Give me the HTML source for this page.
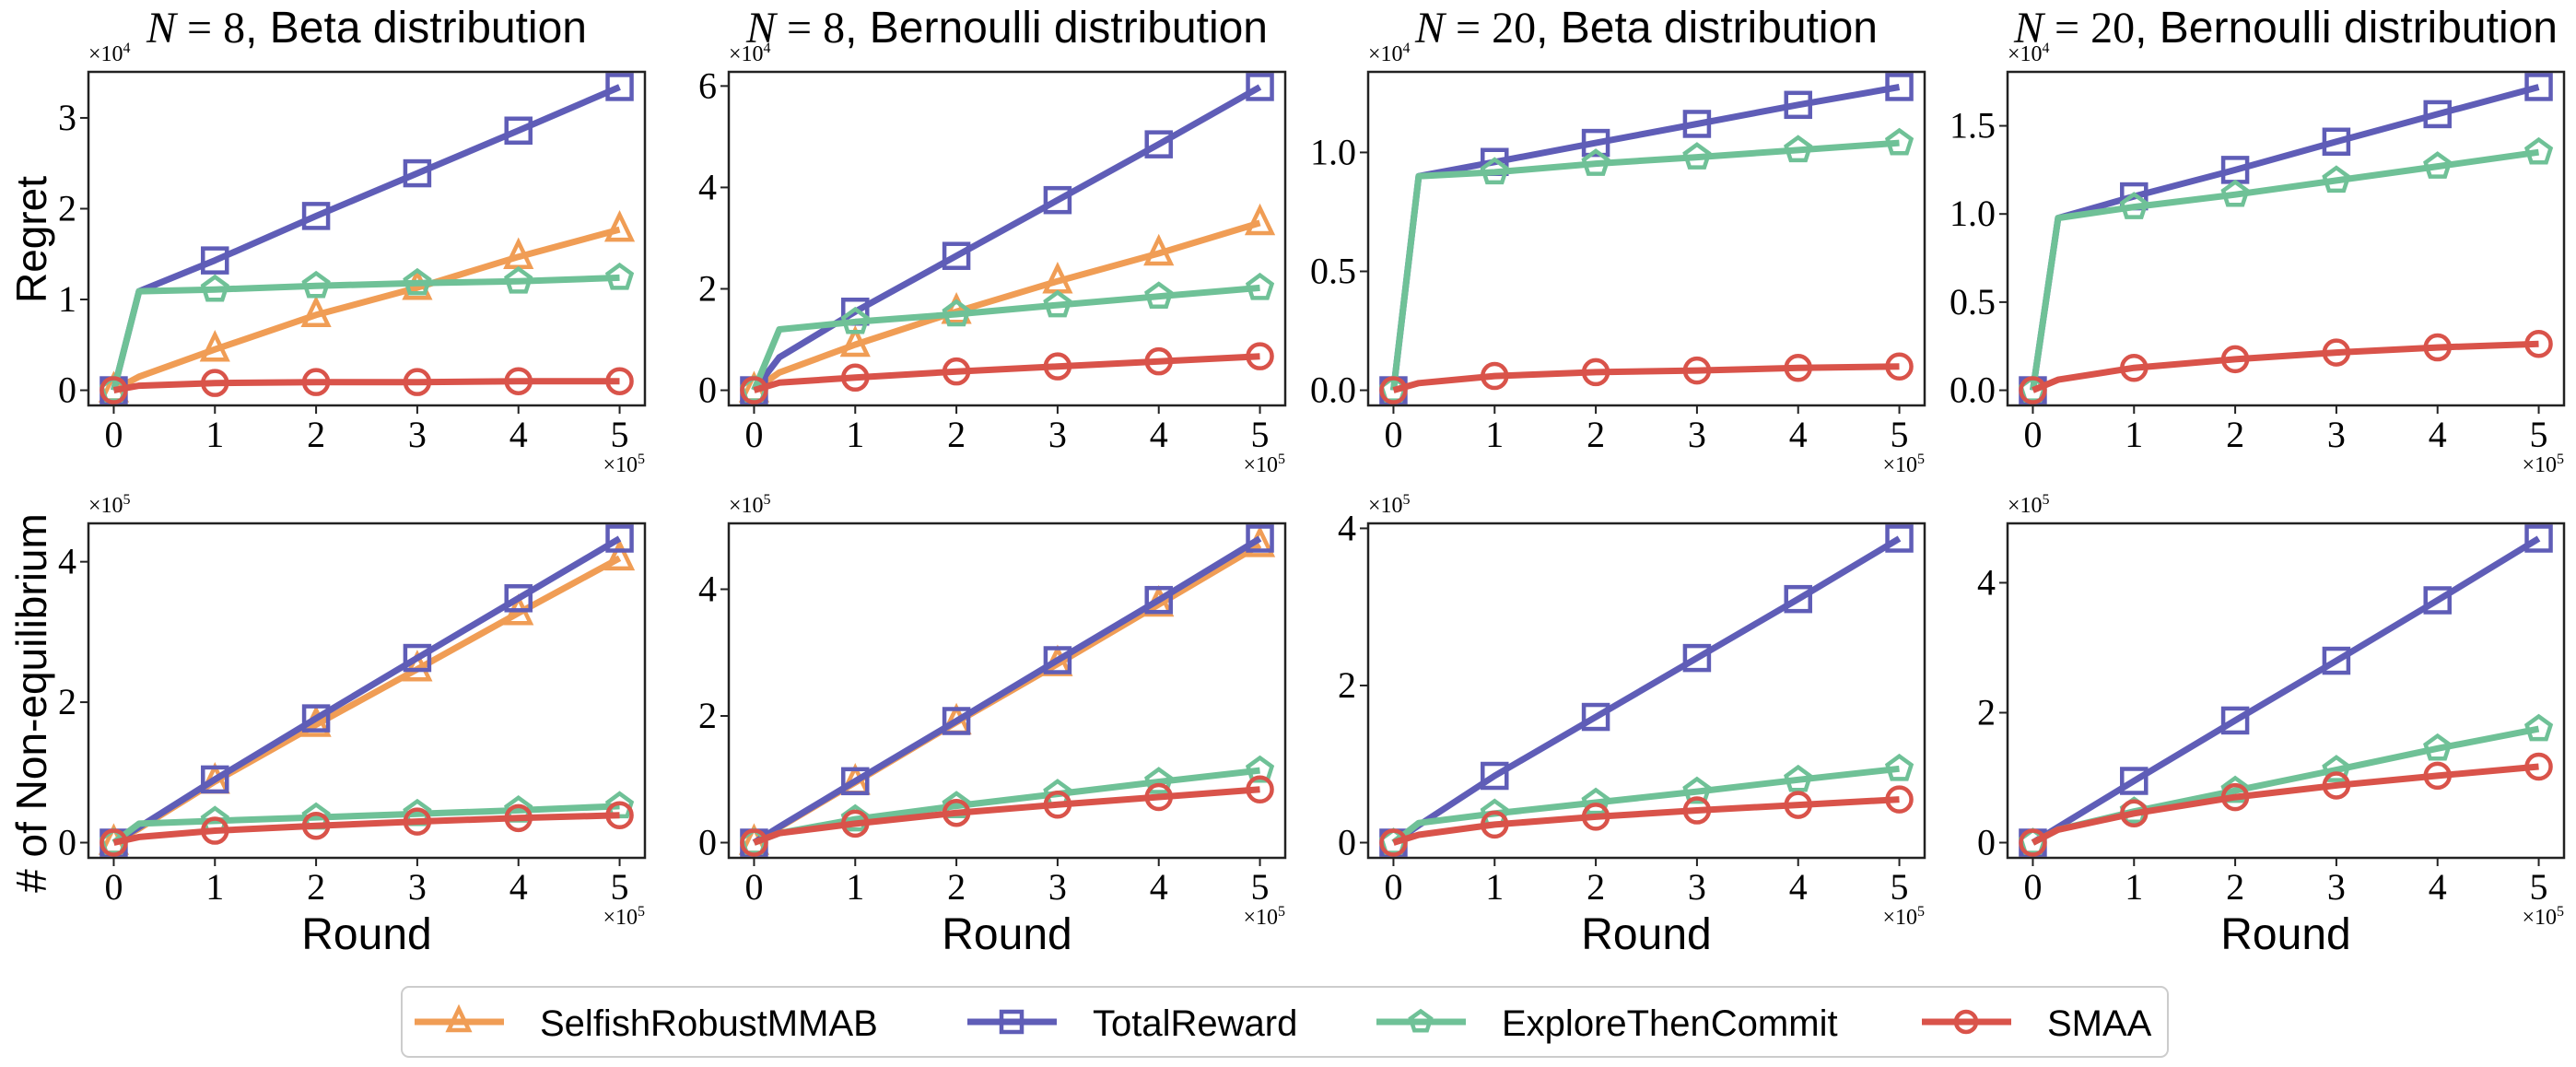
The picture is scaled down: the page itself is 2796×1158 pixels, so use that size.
<!DOCTYPE html>
<html><head><meta charset="utf-8"><style>
html,body{margin:0;padding:0;background:#fff;}
svg{display:block;}
.tick{font-family:"Liberation Serif","DejaVu Serif",serif;font-size:40px;fill:#000;}
.sans{font-family:"Liberation Sans","DejaVu Sans",sans-serif;fill:#000;}
.off{font-family:"Liberation Serif",serif;font-size:24px;fill:#000;}
</style></head><body>
<svg id="fig" width="2796" height="1158" viewBox="0 0 2796 1158" xmlns="http://www.w3.org/2000/svg">
<text class="sans" x="50" y="260" font-size="46" text-anchor="middle" transform="rotate(-90 50 260)">Regret</text>
<text class="sans" x="50" y="763" font-size="46" text-anchor="middle" transform="rotate(-90 50 763)"># of Non-equilibrium</text>
<g id="panels"></g>
<g>
<rect x="436" y="1071" width="1917" height="76" rx="8" fill="#fff" stroke="#cccccc" stroke-width="2"/>
<g id="legend"></g>
</g>
</svg>
<script>
const xTicks = [0,1,2,3,4,5];
const lineX = [0,0.25,1,2,3,4,5];
const markerX = [0,1,2,3,4,5];
const seriesNames = ["SelfishRobustMMAB","TotalReward","ExploreThenCommit","SMAA"];
const seriesColors = ["#f09d55","#5f5db7","#6fc197","#d9534a"];
const titles = ["N = 8, Beta distribution","N = 8, Bernoulli distribution","N = 20, Beta distribution","N = 20, Bernoulli distribution"];
const regretSelfish = [[0,0.15,0.45,0.83,1.13,1.47,1.77],[0,0.35,0.9,1.55,2.15,2.7,3.3],null,null];
const regretTotal = [[0,1.09,1.43,1.92,2.39,2.86,3.34],[0,0.65,1.55,2.65,3.75,4.85,5.98],[0,0.9,0.96,1.04,1.12,1.2,1.275],[0,0.977,1.1,1.25,1.41,1.566,1.72]];
const regretETC = [[0,1.09,1.11,1.15,1.18,1.2,1.24],[0,1.2,1.35,1.5,1.68,1.85,2.02],[0,0.9,0.917,0.953,0.98,1.01,1.04],[0,0.977,1.04,1.11,1.19,1.27,1.35]];
const regretSMAA = [[0,0.05,0.08,0.09,0.09,0.1,0.1],[0,0.15,0.25,0.37,0.47,0.57,0.67],[0,0.03,0.06,0.076,0.083,0.094,0.1],[0,0.06,0.127,0.176,0.214,0.243,0.263]];
const regretTicks = [[0,1,2,3],[0,2,4,6],[0.0,0.5,1.0],[0.0,0.5,1.0,1.5]];
const regretTickLabels = [["0","1","2","3"],["0","2","4","6"],["0.0","0.5","1.0"],["0.0","0.5","1.0","1.5"]];
const neSelfish = [[0,0.2,0.87,1.68,2.47,3.27,4.05],[0,0.24,0.95,1.9,2.82,3.76,4.7],null,null];
const neTotal = [[0,0.22,0.9,1.77,2.63,3.48,4.33],[0,0.25,0.97,1.92,2.88,3.83,4.8],[0,0.22,0.85,1.6,2.35,3.1,3.87],[0,0.24,0.95,1.88,2.8,3.73,4.68]];
const neETC = [[0,0.27,0.31,0.36,0.41,0.46,0.52],[0,0.15,0.37,0.58,0.77,0.96,1.14],[0,0.25,0.37,0.51,0.65,0.8,0.94],[0,0.2,0.48,0.8,1.12,1.45,1.75]];
const neSMAA = [[0,0.08,0.17,0.24,0.3,0.35,0.39],[0,0.15,0.3,0.47,0.6,0.72,0.84],[0,0.1,0.23,0.33,0.41,0.48,0.55],[0,0.2,0.45,0.7,0.88,1.03,1.17]];
const neTicks = [[0,2,4],[0,2,4],[0,2,4],[0,2,4]];
const neTickLabels = [["0","2","4"],["0","2","4"],["0","2","4"],["0","2","4"]];

const NS="http://www.w3.org/2000/svg";
function mk(tag, attrs, parent){const e=document.createElementNS(NS,tag);for(const k in attrs)e.setAttribute(k,attrs[k]);parent.appendChild(e);return e;}
const panelLefts=[96,791,1485,2179];
const W=604;
const rows=[{top:78,bottom:440,data:[regretSelfish,regretTotal,regretETC,regretSMAA],ticks:regretTicks,labels:regretTickLabels,exp:"4",name:"regret"},
            {top:568,bottom:931,data:[neSelfish,neTotal,neETC,neSMAA],ticks:neTicks,labels:neTickLabels,exp:"5",name:"non-equilibrium"}];
const root=document.getElementById('panels');

function marker(g,type,cx,cy,color,s){
  s=s||13;let e;
  if(type===0){e=mk('polygon',{points:`${cx},${cy-s-3} ${cx-s},${cy+s-2} ${cx+s},${cy+s-2}`},g);}
  else if(type===1){e=mk('rect',{x:cx-s,y:cy-s,width:2*s,height:2*s},g);}
  else if(type===2){let p=[];for(let i=0;i<5;i++){const a=-Math.PI/2+i*2*Math.PI/5;p.push((cx+s*1.05*Math.cos(a)).toFixed(1)+','+(cy+s*1.05*Math.sin(a)).toFixed(1));}e=mk('polygon',{points:p.join(' ')},g);}
  else {e=mk('circle',{cx:cx,cy:cy,r:s},g);}
  e.setAttribute('fill','none');e.setAttribute('stroke',color);e.setAttribute('stroke-width','4.5');
  return e;
}

rows.forEach((row,ri)=>{
  panelLefts.forEach((L,pi)=>{
    const g=mk('g',{},root);
    
    
    let ymax=0;row.data.forEach(s=>{if(s[pi])ymax=Math.max(ymax,...s[pi]);});
    const y0=-0.05*ymax,y1=1.05*ymax;
    const X=v=>L+(v+0.25)/5.5*W;
    const Y=v=>row.bottom-(v-y0)/(y1-y0)*(row.bottom-row.top);
    const clipId=`c${ri}${pi}`;
    const cp=mk('clipPath',{id:clipId},g);mk('rect',{x:L,y:row.top,width:W,height:row.bottom-row.top},cp);
    row.data.forEach((s,si)=>{
      if(!s[pi])return;
      const sg=mk('g',{'clip-path':`url(#${clipId})`},g);
      
      
      const pts=lineX.map((x,i)=>X(x).toFixed(1)+','+Y(s[pi][i]).toFixed(1)).join(' ');
      const pl=mk('polyline',{points:pts,fill:'none',stroke:seriesColors[si],'stroke-width':7,'stroke-linejoin':'round'},sg);
      
      
      markerX.forEach(mx=>{
        const idx=lineX.indexOf(mx);
        const m=marker(sg,si,X(mx),Y(s[pi][idx]),seriesColors[si]);
        
        
      });
    });
    const fr=mk('rect',{x:L,y:row.top,width:W,height:row.bottom-row.top,fill:'none',stroke:'#222','stroke-width':2.5},g);
    
    
    xTicks.forEach(t=>{
      mk('line',{x1:X(t),x2:X(t),y1:row.bottom,y2:row.bottom+9,stroke:'#222','stroke-width':2},g);
      const tx=mk('text',{x:X(t),y:row.bottom+45,'text-anchor':'middle',class:'tick'},g);tx.textContent=t;
      
      
    });
    row.ticks[pi].forEach((t,i)=>{
      mk('line',{x1:L-9,x2:L,y1:Y(t),y2:Y(t),stroke:'#222','stroke-width':2},g);
      const tx=mk('text',{x:L-13,y:Y(t)+13,'text-anchor':'end',class:'tick'},g);tx.textContent=row.labels[pi][i];
      
      
    });
    const o1=mk('text',{x:L,y:row.top-12,class:'off'},g);o1.innerHTML=`×10<tspan dy="-9" font-size="16">${row.exp}</tspan>`;
    
    
    const o2=mk('text',{x:L+W,y:row.bottom+72,class:'off','text-anchor':'end'},g);o2.innerHTML=`×10<tspan dy="-9" font-size="16">5</tspan>`;
    
    
    if(ri===0){
      const parts=titles[pi].split(',');
      const t=mk('text',{x:L+W/2,y:46,'text-anchor':'middle',class:'sans','font-size':48},g);
      t.innerHTML=`<tspan font-family="Liberation Serif,serif" font-style="italic">N</tspan><tspan font-family="Liberation Serif,serif"> = ${parts[0].replace('N = ','')}</tspan>,${parts[1]}`;
      
      
    } else {
      const t=mk('text',{x:L+W/2,y:1030,'text-anchor':'middle',class:'sans','font-size':48},g);t.textContent='Round';
      
      
    }
  });
});
const lg=document.getElementById('legend');
const legHandles=[450,1050,1494,2086];
seriesNames.forEach((n,i)=>{
  const g=mk('g',{},lg);
  
  
  const hx=legHandles[i];
  mk('line',{x1:hx,x2:hx+97,y1:1109,y2:1109,stroke:seriesColors[i],'stroke-width':7},g);
  marker(g,i,hx+48,1109,seriesColors[i],11);
  const t=mk('text',{x:hx+136,y:1124,class:'sans','font-size':40},g);t.textContent=n;
});
</script>
</body></html>
